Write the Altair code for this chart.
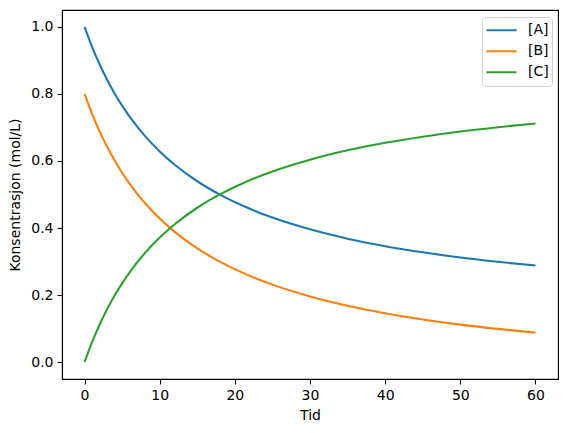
import altair as alt
import pandas as pd

t = [0, 1, 2, 3, 4, 5, 6, 8, 10, 12, 15, 18, 21, 25, 30, 35, 40, 45, 50, 55, 60]
A = [1.0, 0.9403, 0.8881, 0.8421, 0.8013, 0.7648, 0.7320, 0.6754, 0.6284, 0.5887,
     0.5395, 0.4998, 0.4670, 0.4313, 0.3961, 0.3683, 0.3459, 0.3276, 0.3122, 0.2993, 0.2883]
B = [0.8, 0.7403, 0.6881, 0.6421, 0.6013, 0.5648, 0.5320, 0.4754, 0.4284, 0.3887,
     0.3395, 0.2998, 0.2670, 0.2313, 0.1961, 0.1683, 0.1459, 0.1276, 0.1122, 0.0993, 0.0883]
C = [0.0, 0.0597, 0.1119, 0.1579, 0.1987, 0.2352, 0.2680, 0.3246, 0.3716, 0.4113,
     0.4605, 0.5002, 0.5330, 0.5687, 0.6039, 0.6317, 0.6541, 0.6724, 0.6878, 0.7007, 0.7117]
series = ["[A]", "[B]", "[C]"]
colors = ["#1f77b4", "#ff7f0e", "#2ca02c"]

rows = []
for name, vals in zip(series, [A, B, C]):
    for ti, v in zip(t, vals):
        rows.append({"Tid": ti, "conc": v, "serie": name})
df = pd.DataFrame(rows)

font = "DejaVu Sans"
chart = alt.Chart(df).mark_line(strokeWidth=2.1, interpolate="monotone").encode(
    x=alt.X("Tid:Q", scale=alt.Scale(domain=[-3, 63], nice=False, zero=False),
            axis=alt.Axis(title="Tid", values=[0, 10, 20, 30, 40, 50, 60], grid=False,
                          format="d", titlePadding=6)),
    y=alt.Y("conc:Q", scale=alt.Scale(domain=[-0.05, 1.05], nice=False, zero=False),
            axis=alt.Axis(title="Konsentrasjon (mol/L)", values=[0, 0.2, 0.4, 0.6, 0.8, 1.0],
                          format=".1f", grid=False, titlePadding=8)),
    color=alt.Color("serie:N", scale=alt.Scale(domain=series, range=colors),
                    legend=alt.Legend(title=None, orient="none", legendX=420, legendY=7,
                                      symbolType="stroke", symbolSize=900, symbolStrokeWidth=2.1,
                                      fillColor="white", strokeColor="#d0d0d0", cornerRadius=3,
                                      padding=3, labelFontSize=14, labelFont=font,
                                      labelColor="#000000", rowPadding=0, clipHeight=20.5,
                                      labelOffset=10)),
).properties(
    width=496, height=369,
    autosize=alt.AutoSizeParams(type="none"),
    padding={"left": 54, "top": 2, "right": 1, "bottom": 46},
).configure_view(
    stroke="black", strokeWidth=1.1
).configure_axis(
    domainColor="black", domainWidth=1.1, tickColor="black", tickWidth=1.1, tickSize=5,
    labelFont=font, labelFontSize=14, labelColor="black", labelPadding=4,
    titleFont=font, titleFontSize=14, titleFontWeight="normal", titleColor="black",
)

chart.save("out.html", embed_options={"renderer": "svg", "actions": False})
